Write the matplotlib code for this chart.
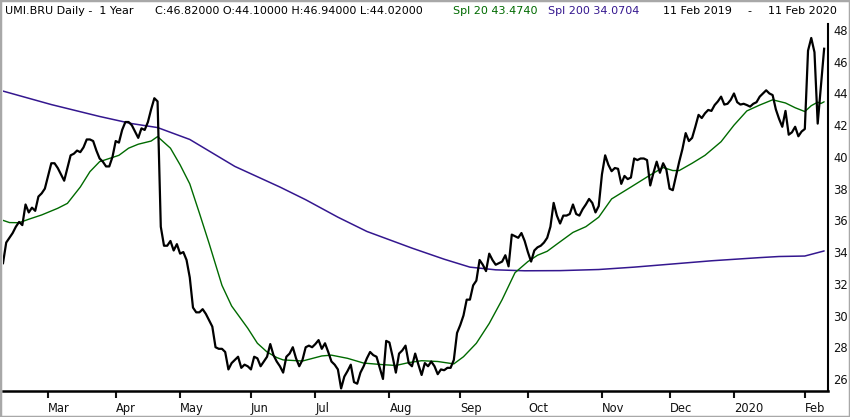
import numpy as np
import pandas as pd
import matplotlib
matplotlib.use('Agg')
import matplotlib.pyplot as plt
from matplotlib.patches import Rectangle

# ---------------- data ----------------
holidays = ['2019-04-19', '2019-04-22', '2019-05-01',
            '2019-12-25', '2019-12-26', '2020-01-01']
start_date, end_date = '2019-02-11', '2020-02-11'

close = [
    33.3, 34.6, 34.9, 35.2, 35.6, 35.9, 35.7, 37.0, 36.5, 36.8,
    36.6, 37.5, 37.7, 38.0, 38.8, 39.6, 39.6, 39.3, 38.9, 38.5,
    39.3, 40.1, 40.2, 40.4, 40.3, 40.6, 41.1, 41.1, 41.0, 40.4,
    39.9, 39.7, 39.4, 39.4, 40.0, 41.0, 40.9, 41.7, 42.2, 42.2,
    42.0, 41.6, 41.2, 41.8, 41.7, 42.2, 43.0, 43.7, 43.5, 35.6,
    34.4, 34.4, 34.7, 34.1, 34.5, 33.9, 34.0, 33.5, 32.4, 30.5,
    30.2, 30.2, 30.4, 30.1, 29.7, 29.3, 28.0, 27.9, 27.9, 27.7,
    26.6, 27.0, 27.2, 27.4, 26.7, 26.9, 26.8, 26.6, 27.4, 27.3,
    26.8, 27.1, 27.4, 28.2, 27.5, 27.1, 26.8, 26.4, 27.4, 27.6,
    28.0, 27.3, 26.8, 27.2, 28.0, 28.1, 28.0, 28.2, 28.45, 27.9,
    28.25, 27.7, 27.1, 26.9, 26.6, 25.4, 26.15, 26.5, 26.9, 25.8,
    25.7, 26.4, 26.8, 27.3, 27.7, 27.5, 27.4, 26.7, 26.0, 28.4,
    28.3, 27.4, 26.4, 27.6, 27.8, 28.1, 27.0, 26.8, 27.6, 26.9,
    26.25, 27.0, 26.8, 27.1, 26.8, 26.3, 26.6, 26.55, 26.7, 26.7,
    27.2, 28.9, 29.4, 30.0, 31.0, 31.0, 31.9, 32.2, 33.5, 33.2,
    32.8, 33.9, 33.5, 33.2, 33.3, 33.4, 33.8, 33.1, 35.1, 35.0,
    34.9, 35.2, 34.7, 34.0, 33.4, 34.1, 34.3, 34.4, 34.6, 34.9,
    35.6, 37.1, 36.3, 35.8, 36.3, 36.3, 36.4, 37.0, 36.4, 36.3,
    36.7, 37.0, 37.35, 37.1, 36.5, 36.9, 38.9, 40.1, 39.5, 39.1,
    39.3, 39.25, 38.3, 38.8, 38.6, 38.7, 39.9, 39.8, 39.9, 39.9,
    39.8, 38.2, 39.0, 39.7, 39.0, 39.6, 39.2, 38.0, 37.9, 38.8,
    39.7, 40.5, 41.5, 41.0, 41.2, 41.9, 42.65, 42.45, 42.75, 42.96,
    42.9, 43.27, 43.5, 43.8, 43.3, 43.35, 43.6, 44.0, 43.45, 43.3,
    43.35, 43.27, 43.17, 43.35, 43.45, 43.8, 44.0, 44.2, 44.0, 43.9,
    43.0, 42.4, 41.9, 42.9, 41.4, 41.55, 41.9, 41.3, 41.6, 41.76,
    46.7, 47.5, 46.6, 42.1, 44.5, 46.82,
]

# Spl 20 (session number, value)
spl20_session = [0, 2, 5, 8, 12, 17, 20, 24, 27, 30, 33, 36, 39, 42, 46, 48,
                 52, 55, 58, 61, 64, 68, 71, 76, 79, 82, 85, 87, 93, 99, 102,
                 107, 112, 118, 122, 126, 130, 135, 140, 143, 147, 151, 155,
                 159, 163, 166, 169, 172, 177, 181, 185, 189, 195, 201, 205,
                 208, 210, 214, 218, 223, 227, 231, 235, 239, 243, 246, 249,
                 251, 253, 254, 255]
spl20 = [36.0, 35.86, 35.85, 36.07, 36.34, 36.76, 37.07, 38.1, 39.07, 39.7,
         39.9, 40.1, 40.55, 40.8, 41.0, 41.28, 40.55, 39.5, 38.3, 36.45,
         34.55, 31.9, 30.6, 29.2, 28.25, 27.7, 27.35, 27.2, 27.13, 27.45,
         27.5, 27.3, 27.0, 26.9, 26.85, 27.03, 27.15, 27.1, 26.95, 27.4,
         28.25, 29.5, 31.0, 32.7, 33.4, 33.8, 34.05, 34.5, 35.24, 35.6,
         36.2, 37.35, 38.1, 38.86, 39.33, 39.14, 39.14, 39.6, 40.1, 40.96,
         42.0, 42.9, 43.27, 43.6, 43.4, 43.1, 42.86, 43.23, 43.45, 43.37,
         43.474]

# Spl 200 (session number, value)
spl200_session = [0, 15, 30, 40, 48, 58, 72, 86, 94, 104, 113, 127, 137, 145,
                  153, 162, 173, 185, 196, 208, 220, 235, 241, 249, 255]
spl200 = [44.15, 43.3, 42.55, 42.1, 41.85, 41.1, 39.4, 38.1, 37.3, 36.2,
          35.3, 34.25, 33.55, 33.05, 32.88, 32.82, 32.83, 32.9, 33.05, 33.25,
          33.45, 33.65, 33.72, 33.75, 34.0704]

y_ticks = [26, 28, 30, 32, 34, 36, 38, 40, 42, 44, 46, 48]

header_main = "UMI.BRU Daily -  1 Year"
header_ohlc = "C:46.82000 O:44.10000 H:46.94000 L:44.02000"
header_spl20 = "Spl 20 43.4740"
header_spl200 = "Spl 200 34.0704"
header_range_a = "11 Feb 2019"
header_range_b = "11 Feb 2020"

# ---------------- calendar ----------------
sessions = pd.bdate_range(start_date, end_date)
sessions = sessions[~sessions.isin(pd.to_datetime(holidays))]
sess_idx = np.arange(len(sessions))

month_pos, month_lab = [], []
periods = sessions.to_period('M')
for i in range(1, len(sessions)):
    if periods[i] != periods[i - 1]:
        month_pos.append(i)
        d = sessions[i]
        month_lab.append(str(d.year) if d.month == 1 else d.strftime('%b'))

# ---------------- figure ----------------
W, H = 850, 417
fig = plt.figure(figsize=(W / 100, H / 100), dpi=100)
fig.patch.set_facecolor('white')

ax_left, ax_right, ax_top, ax_bot = 3, 828, 24, 391
ax = fig.add_axes([ax_left / W, 1 - ax_bot / H,
                   (ax_right - ax_left) / W, (ax_bot - ax_top) / H])

green = '#006a00'
purple = '#34178f'

ax.plot(spl200_session, spl200, color=purple, lw=1.1, solid_capstyle='round')
ax.plot(spl20_session, spl20, color=green, lw=1.0, solid_capstyle='round')
ax.plot(sess_idx[:len(close)], close, color='black', lw=1.6,
        solid_joinstyle='round')

ax.set_xlim(0, 256.2)
ax.set_ylim(25.24, 48.38)

for s in ['top', 'left']:
    ax.spines[s].set_visible(False)
ax.spines['bottom'].set_linewidth(1.8)
ax.spines['right'].set_linewidth(1.5)

ax.yaxis.tick_right()
ax.set_yticks(y_ticks)
ax.set_yticklabels([str(v) for v in y_ticks])
ax.tick_params(axis='y', length=0, pad=4, labelsize=8.3, colors='#111111')

ax.set_xticks(month_pos)
ax.set_xticklabels(month_lab)
ax.tick_params(axis='x', direction='out', length=5, width=1.5, pad=3,
               labelsize=8.3, colors='#111111')
for lbl in ax.get_xticklabels():
    lbl.set_ha('left')

# header
ty = 1 - 11.5 / H
fs = 8.0
fig.text(5 / W, ty, header_main, fontsize=fs, va='center', ha='left', color='black')
fig.text(155 / W, ty, header_ohlc, fontsize=fs, va='center', ha='left', color='black')
fig.text(453 / W, ty, header_spl20, fontsize=fs, va='center', ha='left', color=green)
fig.text(548 / W, ty, header_spl200, fontsize=fs, va='center', ha='left', color=purple)
fig.text(663 / W, ty, header_range_a, fontsize=fs, va='center', ha='left', color='black')
fig.text(747 / W, ty, "-", fontsize=fs, va='center', ha='left', color='black')
fig.text(768 / W, ty, header_range_b, fontsize=fs, va='center', ha='left', color='black')

# frame
fig.add_artist(Rectangle((0, 0), 1, 1, transform=fig.transFigure, fill=False,
                         edgecolor='#a8a8a8', lw=2.5))

fig.savefig('out.png', dpi=100)
